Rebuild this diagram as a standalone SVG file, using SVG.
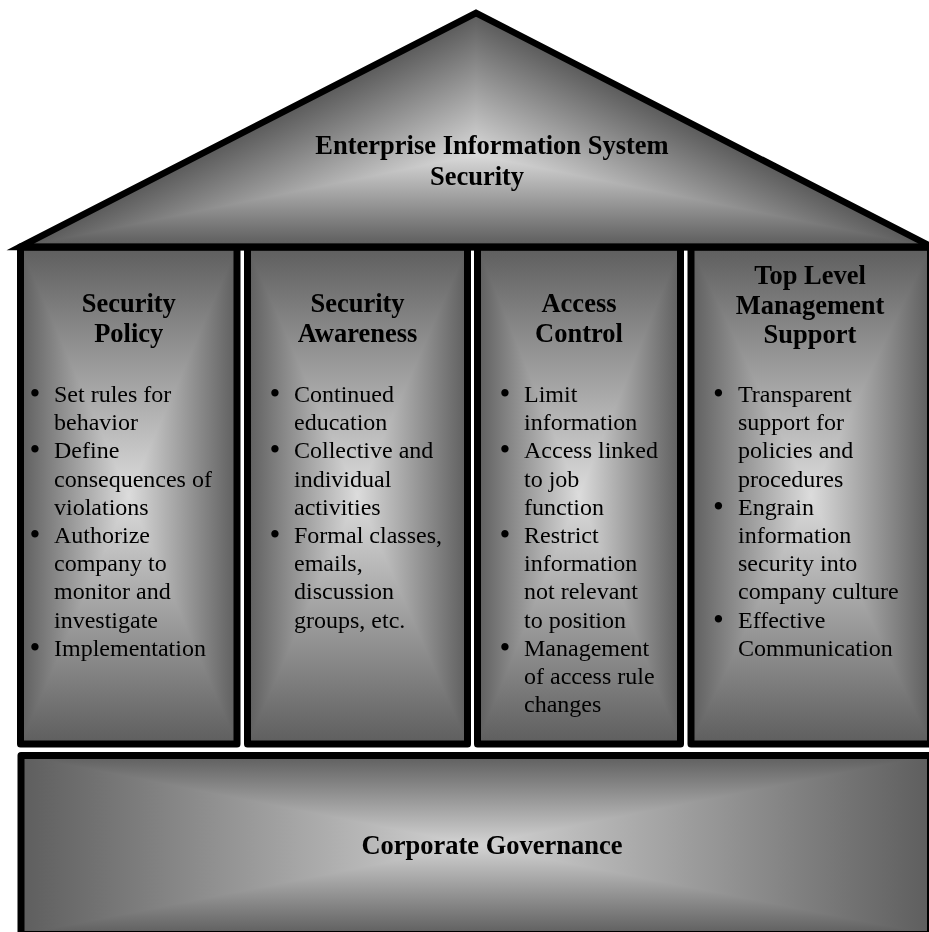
<svg xmlns="http://www.w3.org/2000/svg" width="929" height="932" viewBox="0 0 929 932">
<style>
.t{font-family:"Liberation Serif","Times New Roman",serif;font-weight:bold;font-size:26.5px;text-anchor:middle;fill:#000}
.b{font-family:"Liberation Serif","Times New Roman",serif;font-size:24px;fill:#000}
.bu{font-family:"Liberation Serif","Times New Roman",serif;font-size:31px;fill:#000;text-anchor:middle}
.o{fill:none;stroke:#000;stroke-width:7;stroke-linejoin:round}
.d{mix-blend-mode:darken}
.iso{isolation:isolate}
</style>
<defs>
<linearGradient id="gh" x1="0" y1="0" x2="1" y2="0"><stop offset="0" stop-color="#5e5e5e"/><stop offset="0.5" stop-color="#dcdcdc"/><stop offset="1" stop-color="#5e5e5e"/></linearGradient>
<linearGradient id="gv" x1="0" y1="0" x2="0" y2="1"><stop offset="0" stop-color="#5e5e5e"/><stop offset="0.5" stop-color="#dcdcdc"/><stop offset="1" stop-color="#5e5e5e"/></linearGradient>
<linearGradient id="bh" x1="0" y1="0" x2="1" y2="0"><stop offset="0" stop-color="#5e5e5e"/><stop offset="0.5" stop-color="#d4d4d4"/><stop offset="1" stop-color="#5e5e5e"/></linearGradient>
<linearGradient id="bv" x1="0" y1="0" x2="0" y2="1"><stop offset="0" stop-color="#5e5e5e"/><stop offset="0.5" stop-color="#d4d4d4"/><stop offset="1" stop-color="#5e5e5e"/></linearGradient>
<linearGradient id="r1" gradientUnits="userSpaceOnUse" x1="476" y1="247" x2="476" y2="155"><stop offset="0" stop-color="#5a5a5a"/><stop offset="1" stop-color="#dadada"/></linearGradient>
<linearGradient id="r2" gradientUnits="userSpaceOnUse" x1="418" y1="42.5" x2="476" y2="155"><stop offset="0" stop-color="#5a5a5a"/><stop offset="1" stop-color="#dadada"/></linearGradient>
<linearGradient id="r3" gradientUnits="userSpaceOnUse" x1="534" y1="42.5" x2="476" y2="155"><stop offset="0" stop-color="#5a5a5a"/><stop offset="1" stop-color="#dadada"/></linearGradient>
</defs>

<g id="pillar-security-policy" class="iso">
<rect x="20.5" y="247" width="216.5" height="497" fill="url(#gh)"/>
<rect class="d" x="20.5" y="247" width="216.5" height="497" fill="url(#gv)"/>
<rect class="o" x="20.5" y="247" width="216.5" height="497"/>
<text class="t" x="128.75" y="312">Security</text>
<text class="t" x="128.75" y="342">Policy</text>
<text class="bu" x="35" y="404">•</text>
<text class="bu" x="35" y="460.4">•</text>
<text class="bu" x="35" y="545">•</text>
<text class="bu" x="35" y="657.8">•</text>
<text class="b" x="54" y="402">Set rules for</text>
<text class="b" x="54" y="430.2">behavior</text>
<text class="b" x="54" y="458.4">Define</text>
<text class="b" x="54" y="486.6">consequences of</text>
<text class="b" x="54" y="514.8">violations</text>
<text class="b" x="54" y="543">Authorize</text>
<text class="b" x="54" y="571.2">company to</text>
<text class="b" x="54" y="599.4">monitor and</text>
<text class="b" x="54" y="627.6">investigate</text>
<text class="b" x="54" y="655.8">Implementation</text>
</g>

<g id="pillar-security-awareness" class="iso">
<rect x="247.5" y="247" width="220" height="497" fill="url(#gh)"/>
<rect class="d" x="247.5" y="247" width="220" height="497" fill="url(#gv)"/>
<rect class="o" x="247.5" y="247" width="220" height="497"/>
<text class="t" x="357.5" y="312">Security</text>
<text class="t" x="357.5" y="342">Awareness</text>
<text class="bu" x="275" y="404">•</text>
<text class="bu" x="275" y="460.4">•</text>
<text class="bu" x="275" y="545">•</text>
<text class="b" x="294" y="402">Continued</text>
<text class="b" x="294" y="430.2">education</text>
<text class="b" x="294" y="458.4">Collective and</text>
<text class="b" x="294" y="486.6">individual</text>
<text class="b" x="294" y="514.8">activities</text>
<text class="b" x="294" y="543">Formal classes,</text>
<text class="b" x="294" y="571.2">emails,</text>
<text class="b" x="294" y="599.4">discussion</text>
<text class="b" x="294" y="627.6">groups, etc.</text>
</g>

<g id="pillar-access-control" class="iso">
<rect x="477.5" y="247" width="203" height="497" fill="url(#gh)"/>
<rect class="d" x="477.5" y="247" width="203" height="497" fill="url(#gv)"/>
<rect class="o" x="477.5" y="247" width="203" height="497"/>
<text class="t" x="579" y="312">Access</text>
<text class="t" x="579" y="342">Control</text>
<text class="bu" x="505" y="404">•</text>
<text class="bu" x="505" y="460.4">•</text>
<text class="bu" x="505" y="545">•</text>
<text class="bu" x="505" y="657.8">•</text>
<text class="b" x="524" y="402">Limit</text>
<text class="b" x="524" y="430.2">information</text>
<text class="b" x="524" y="458.4">Access linked</text>
<text class="b" x="524" y="486.6">to job</text>
<text class="b" x="524" y="514.8">function</text>
<text class="b" x="524" y="543">Restrict</text>
<text class="b" x="524" y="571.2">information</text>
<text class="b" x="524" y="599.4">not relevant</text>
<text class="b" x="524" y="627.6">to position</text>
<text class="b" x="524" y="655.8">Management</text>
<text class="b" x="524" y="684">of access rule</text>
<text class="b" x="524" y="712.2">changes</text>
</g>

<g id="pillar-top-level-management-support" class="iso">
<rect x="691" y="247" width="239.5" height="497" fill="url(#gh)"/>
<rect class="d" x="691" y="247" width="239.5" height="497" fill="url(#gv)"/>
<rect class="o" x="691" y="247" width="239.5" height="497"/>
<text class="t" x="810" y="284">Top Level</text>
<text class="t" x="810" y="314">Management</text>
<text class="t" x="810" y="343">Support</text>
<text class="bu" x="718.5" y="404">•</text>
<text class="bu" x="718.5" y="516.8">•</text>
<text class="bu" x="718.5" y="629.6">•</text>
<text class="b" x="738" y="402">Transparent</text>
<text class="b" x="738" y="430.2">support for</text>
<text class="b" x="738" y="458.4">policies and</text>
<text class="b" x="738" y="486.6">procedures</text>
<text class="b" x="738" y="514.8">Engrain</text>
<text class="b" x="738" y="543">information</text>
<text class="b" x="738" y="571.2">security into</text>
<text class="b" x="738" y="599.4">company culture</text>
<text class="b" x="738" y="627.6">Effective</text>
<text class="b" x="738" y="655.8">Communication</text>
</g>

<g id="roof" class="iso">
<polygon points="20,247 476,13 932,247" fill="url(#r1)"/>
<polygon class="d" points="20,247 476,13 932,247" fill="url(#r2)"/>
<polygon class="d" points="20,247 476,13 932,247" fill="url(#r3)"/>
<line x1="22" y1="247" x2="935" y2="247" stroke="#000" stroke-width="7"/>
<polygon points="20,247 476,13 932,247" fill="none" stroke="#000" stroke-width="6.5" stroke-linejoin="miter" stroke-miterlimit="10"/>
<text class="t" x="492" y="154">Enterprise Information System</text>
<text class="t" x="477" y="185">Security</text>
</g>

<g id="base-corporate-governance" class="iso">
<rect x="21" y="755.5" width="909.5" height="179" fill="url(#bh)"/>
<rect class="d" x="21" y="755.5" width="909.5" height="179" fill="url(#bv)"/>
<rect class="o" x="21" y="755.5" width="909.5" height="179"/>
<text class="t" x="492" y="854">Corporate Governance</text>
</g>

<g id="connectors"></g>
</svg>
